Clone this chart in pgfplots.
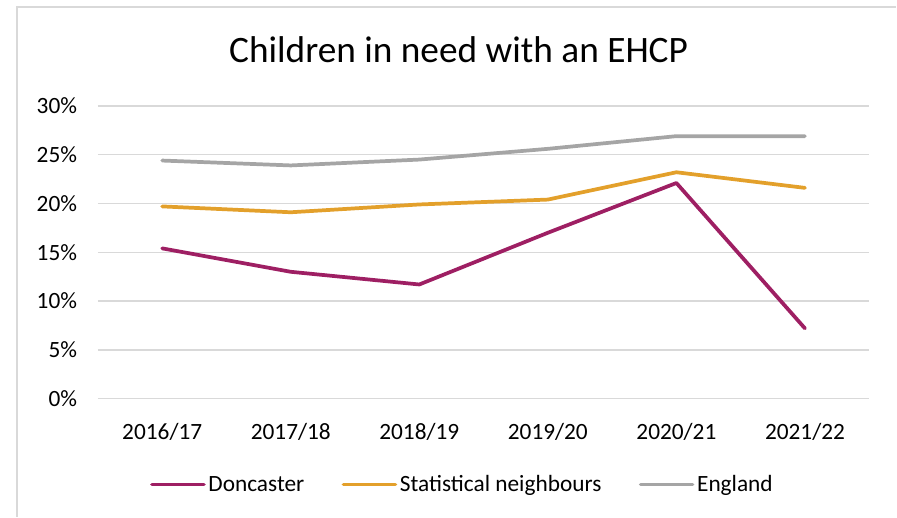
\documentclass[border=0pt]{standalone}
\usepackage{pgfplots}
\pgfplotsset{compat=1.18}
\usepackage{fontspec}
\setmainfont{Carlito}
\definecolor{donc}{HTML}{9E1F63}
\definecolor{statn}{HTML}{E3A02B}
\definecolor{eng}{HTML}{A5A5A5}
\definecolor{gridc}{HTML}{D9D9D9}
\begin{document}
\begin{tikzpicture}
\path (0pt,0pt) rectangle (672.75pt,387.75pt);
\draw[gridc, line width=1.2pt] (12.75pt,0pt) -- (12.75pt,382.5pt) -- (672.75pt,382.5pt);
\node[font=\fontsize{28}{32}\selectfont] at (344.25pt,350.25pt) {Children in need with an EHCP};
\begin{axis}[
  at={(73.5pt,88.5pt)}, anchor=south west,
  scale only axis, width=579pt, height=219.75pt,
  xmin=-0.5, xmax=5.5, ymin=0, ymax=30,
  xtick={0,1,2,3,4,5},
  xticklabels={2016/17,2017/18,2018/19,2019/20,2020/21,2021/22},
  ytick={0,5,10,15,20,25,30},
  yticklabels={0\%,5\%,10\%,15\%,20\%,25\%,30\%},
  major tick length=0pt,
  axis line style={draw=none},
  ymajorgrids, grid style={gridc, line width=1.1pt},
  tick label style={font=\fontsize{17.5}{20}\selectfont},
  yticklabel style={anchor=east, inner sep=0pt, xshift=-15.5pt},
  xticklabel style={anchor=base, inner sep=0pt, yshift=-30.5pt},
  legend columns=3,
  legend style={at={(0.473,-0.2935)}, anchor=center, draw=none, fill=none,
    font=\fontsize{17.5}{20}\selectfont,
    /tikz/every even column/.append style={column sep=26pt},
    nodes={inner sep=2pt}},
  legend image code/.code={\draw[#1] (0pt,0pt) -- (39pt,0pt);},
  every axis plot/.append style={line width=2.8pt, line join=round, line cap=round},
]
\addplot[donc, mark=none] coordinates {(0,15.4) (1,13.0) (2,11.7) (3,17.0) (4,22.1) (5,7.2)};
\addlegendentry{Doncaster}
\addplot[statn, mark=none] coordinates {(0,19.7) (1,19.1) (2,19.9) (3,20.4) (4,23.2) (5,21.6)};
\addlegendentry{Statistical neighbours}
\addplot[eng, mark=none] coordinates {(0,24.4) (1,23.9) (2,24.5) (3,25.6) (4,26.9) (5,26.9)};
\addlegendentry{England}
\end{axis}
\end{tikzpicture}
\end{document}
